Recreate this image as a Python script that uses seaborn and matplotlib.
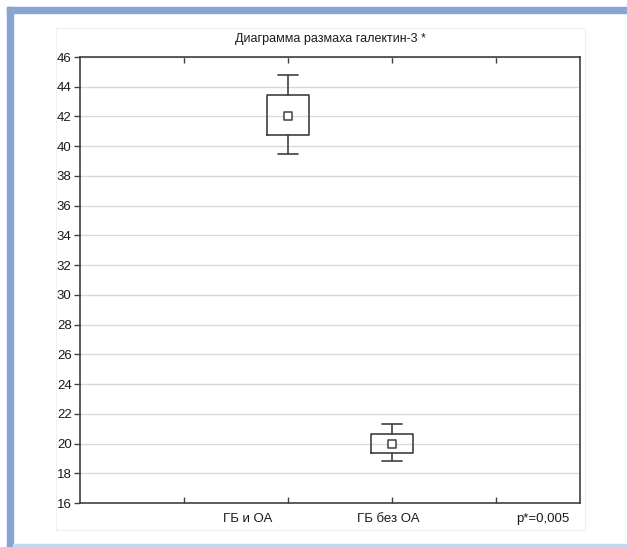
import matplotlib
matplotlib.use("Agg")
import matplotlib.pyplot as plt
import matplotlib.patches as mpatches
import seaborn as sns
import pandas as pd

# values (mean, box = +-SE, whiskers = +-SD)
groups = ["ГБ и ОА", "ГБ без ОА"]
mean_vals = [42.05, 20.0]
box_low = [40.75, 19.35]
box_high = [43.45, 20.65]
whisk_low = [39.45, 18.8]
whisk_high = [44.8, 21.3]
p_note = "p*=0,005"

sns.set_style("white")
plt.rcParams["font.family"] = ["Liberation Sans", "DejaVu Sans"]

fig = plt.figure(figsize=(6.27, 5.47), dpi=100)
ax = fig.add_axes([80 / 627, 44 / 547, 500 / 627, 446 / 547])

W, H = 627, 547
# outer frame of the page (blue bars) and faint panel
fig.patches.append(mpatches.Rectangle((7 / W, 0), 6 / W, 1 - 7 / H, transform=fig.transFigure,
                                      color="#88a4d4", zorder=0))
fig.patches.append(mpatches.Rectangle((7 / W, 1 - 13 / H), 1, 6 / H, transform=fig.transFigure,
                                      color="#88a4d4", zorder=0))
fig.patches.append(mpatches.Rectangle((13 / W, 1 / H), 1, 2 / H, transform=fig.transFigure,
                                      color="#c6d7ef", zorder=0))
fig.patches.append(mpatches.Rectangle((56 / W, 17 / H), 529 / W, 502 / H, transform=fig.transFigure,
                                      facecolor="none", edgecolor="#f0f0f0", lw=0.8, zorder=0))

pos = [2, 3]
stats = []
for i, g in enumerate(groups):
    stats.append({"label": g, "med": mean_vals[i], "q1": box_low[i], "q3": box_high[i],
                  "whislo": whisk_low[i], "whishi": whisk_high[i], "fliers": []})

line_c = "#404040"
ax.bxp(stats, positions=pos, widths=0.4, capwidths=0.2, showfliers=False, manage_ticks=False,
       boxprops=dict(color=line_c, lw=1.2),
       whiskerprops=dict(color=line_c, lw=1.2),
       capprops=dict(color=line_c, lw=1.2),
       medianprops=dict(lw=0))

df = pd.DataFrame({"x": pos, "mean": mean_vals})
sns.scatterplot(data=df, x="x", y="mean", marker="s", s=28, color="white",
                edgecolor=line_c, linewidth=1.1, ax=ax, zorder=5)

ax.set_xlim(0, 500 / 104)
ax.set_ylim(16, 46)
ax.set_yticks(range(16, 47, 2))
ax.set_xticks([1, 2, 3, 4])
ax.set_xticklabels([])
ax.set_xlabel("")
ax.set_ylabel("")
ax.yaxis.grid(True, color="#d9d9d9", lw=1)
ax.set_axisbelow(True)
for s in ax.spines.values():
    s.set_color("#404040")
    s.set_linewidth(1.2)
ax.tick_params(axis="y", direction="out", length=4, width=1, color="#404040",
               labelsize=9.5, pad=2, labelcolor="#1a1a1a", left=True)
ax.tick_params(axis="x", direction="in", length=4, width=1, color="#404040",
               top=True, bottom=True)

for x, t in zip([1.615, 2.96], groups):
    ax.text(x, -0.022, t, transform=ax.get_xaxis_transform(), ha="center", va="top",
            fontsize=9.5, color="#1a1a1a")
ax.text(4.45, -0.022, p_note, transform=ax.get_xaxis_transform(), ha="center", va="top",
        fontsize=9.5, color="#1a1a1a")

ax.set_title("Диаграмма размаха галектин-3 *", fontsize=9, color="#1a1a1a", pad=11)

fig.savefig("out.png", dpi=100)
